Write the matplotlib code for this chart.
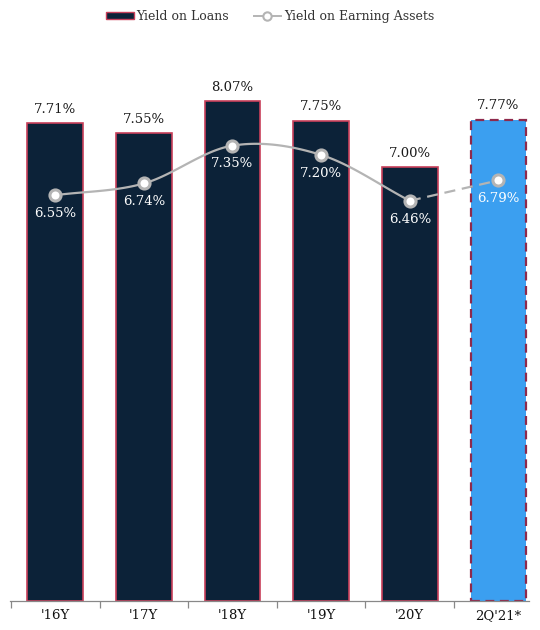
import numpy as np
import matplotlib.pyplot as plt
from matplotlib.lines import Line2D
from matplotlib.patches import Patch

# data
periods = ["'16Y", "'17Y", "'18Y", "'19Y", "'20Y", "2Q'21*"]
loan_yield = [7.71, 7.55, 8.07, 7.75, 7.00, 7.77]
asset_yield = [6.55, 6.74, 7.35, 7.20, 6.46, 6.79]

NAVY = '#0c2238'
EDGE = '#c8405a'
BLUE = '#3b9ff0'
DASH_EDGE = '#8e2a4c'
GREY = '#b4b4b4'

plt.rcParams['font.family'] = ['DejaVu Serif']


def smooth(xs, ys, n=30):
    # catmull-rom through the points, like excel's smoothed line
    xs = np.asarray(xs, float)
    ys = np.asarray(ys, float)
    px = np.concatenate([[2 * xs[0] - xs[1]], xs, [2 * xs[-1] - xs[-2]]])
    py = np.concatenate([[2 * ys[0] - ys[1]], ys, [2 * ys[-1] - ys[-2]]])
    outx, outy = [], []
    for i in range(1, len(px) - 2):
        t = np.linspace(0, 1, n)
        for p, out in ((px, outx), (py, outy)):
            p0, p1, p2, p3 = p[i - 1], p[i], p[i + 1], p[i + 2]
            out.extend(0.5 * (2 * p1 + (-p0 + p2) * t
                              + (2 * p0 - 5 * p1 + 4 * p2 - p3) * t ** 2
                              + (-p0 + 3 * p1 - 3 * p2 + p3) * t ** 3))
    return outx, outy


fig = plt.figure(figsize=(5.4, 6.3), dpi=100)
ax = fig.add_axes([0.0185, 0.046, 0.962, 0.89])

x = np.arange(len(periods))
colors = [NAVY] * 5 + [BLUE]
bars = ax.bar(x, loan_yield, width=0.63, color=colors, zorder=2)
for b in bars[:5]:
    b.set_edgecolor(EDGE)
    b.set_linewidth(1.2)
bars[5].set_edgecolor(DASH_EDGE)
bars[5].set_linewidth(1.6)
bars[5].set_linestyle((0, (4, 2.5)))

for xi, v in zip(x, loan_yield):
    ax.text(xi, v + 0.12, f'{v:.2f}%', ha='center', va='bottom',
            fontsize=9.5, color='#1a1a1a')

sx, sy = smooth(x[:5], asset_yield[:5])
ax.plot(sx, sy, color=GREY, lw=1.6, zorder=3, solid_capstyle='round')
ax.plot(x[4:], asset_yield[4:], color=GREY, lw=1.6, ls=(0, (5, 3)), zorder=3)
ax.plot(x, asset_yield, ls='none', marker='o', ms=8, mfc='white',
        mec=GREY, mew=2.2, zorder=4)
for xi, v in zip(x, asset_yield):
    ax.text(xi, v - 0.19, f'{v:.2f}%', ha='center', va='top',
            fontsize=9.5, color='white', zorder=5)

ax.set_ylim(0, 9.05)
ax.set_xlim(-0.51, 5.35)
ax.set_yticks([])
ax.set_xticks(x)
ax.set_xticklabels(periods, fontsize=9.5, color='#111111')
ax.tick_params(axis='x', length=0, pad=6)
ax.set_xticks(x - 0.5, minor=True)
ax.tick_params(axis='x', which='minor', length=5, color='#888888', width=0.9)
for s in ['top', 'right', 'left']:
    ax.spines[s].set_visible(False)
ax.spines['bottom'].set_color('#888888')
ax.spines['bottom'].set_linewidth(0.9)

handles = [
    Patch(facecolor=NAVY, edgecolor=EDGE, linewidth=1.0, label='Yield on Loans'),
    Line2D([], [], color=GREY, lw=1.4, marker='o', ms=6, mfc='white',
           mec=GREY, mew=1.5, label='Yield on Earning Assets'),
]
fig.legend(handles=handles, loc='center', bbox_to_anchor=(0.5, 0.974), ncol=2,
           frameon=False, fontsize=9, handlelength=2.2, handleheight=0.6,
           columnspacing=2.0, handletextpad=0.2, labelcolor='#333333')

fig.savefig('out.png', dpi=100)
